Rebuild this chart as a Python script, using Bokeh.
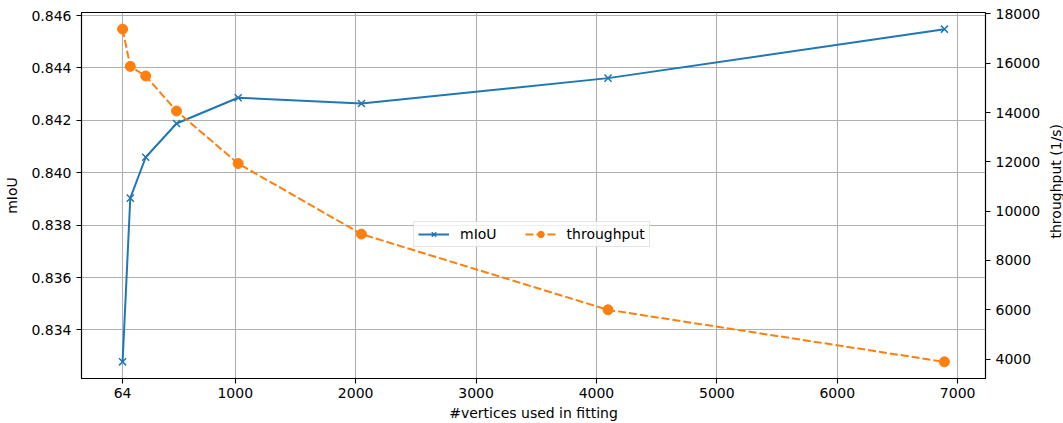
import math
from bokeh.plotting import figure
from bokeh.layouts import row
from bokeh.models import (Range1d, LinearAxis, FixedTicker, Legend, LegendItem,
                          NumeralTickFormatter, ColumnDataSource)
from bokeh.core.properties import value
from bokeh.embed import file_html
from bokeh.resources import INLINE

# ---- data ----
vertices = [64, 128, 256, 512, 1024, 2048, 4096, 6890]
miou = [0.83278, 0.83903, 0.84059, 0.84188, 0.84286, 0.84264, 0.84361, 0.84548]
throughput = [17380, 15870, 15480, 14060, 11930, 9070, 6000, 3890]

x_ticks = [64, 1000, 2000, 3000, 4000, 5000, 6000, 7000]
left_ticks = [0.834, 0.836, 0.838, 0.840, 0.842, 0.844, 0.846]
right_ticks = [4000, 6000, 8000, 10000, 12000, 14000, 16000, 18000]
right_title = "throughput (1/s)"


def padded(vals, frac=0.05):
    lo, hi = min(vals), max(vals)
    m = (hi - lo) * frac
    return lo - m, hi + m


FONT = "DejaVu Sans"
BLUE = "#1f77b4"
ORANGE = "#ff7f0e"

xlo, xhi = padded(vertices)
ylo, yhi = padded(miou)
tlo, thi = padded(throughput)

W, H = 1063, 423
SIDE = 20
BL, BR, BT, BB = 81, 77 - SIDE, 12, 45

p = figure(width=W - SIDE, height=H, output_backend="svg", toolbar_location=None,
           x_range=Range1d(xlo, xhi), y_range=Range1d(ylo, yhi),
           min_border_left=BL, min_border_right=BR, min_border_top=BT,
           min_border_bottom=BB)
p.extra_y_ranges = {"tp": Range1d(tlo, thi)}

src = ColumnDataSource(dict(x=vertices, m=miou, t=throughput))

l1 = p.line("x", "m", source=src, color=BLUE, line_width=2)
s1 = p.scatter("x", "m", source=src, marker="x", size=10, line_color=BLUE, line_width=1.5)
l2 = p.line("x", "t", source=src, color=ORANGE, line_width=2, line_dash="8 3",
            y_range_name="tp")
s2 = p.scatter("x", "t", source=src, marker="circle", size=10, fill_color=ORANGE,
               line_color=ORANGE, y_range_name="tp")

p.xaxis.ticker = FixedTicker(ticks=x_ticks)
p.yaxis.ticker = FixedTicker(ticks=left_ticks)
p.yaxis.formatter = NumeralTickFormatter(format="0.000")
p.xaxis.axis_label = "#vertices used in fitting"
p.yaxis.axis_label = "mIoU"

raxis = LinearAxis(y_range_name="tp", ticker=FixedTicker(ticks=right_ticks))
p.add_layout(raxis, "right")

for ax in [p.xaxis[0], p.yaxis[0], raxis]:
    ax.major_label_text_font = FONT
    ax.major_label_text_font_size = "14px"
    ax.major_label_text_color = "black"
    ax.axis_label_text_font = FONT
    ax.axis_label_text_font_size = "14px"
    ax.axis_label_text_font_style = "normal"
    ax.axis_label_text_color = "black"
    ax.axis_line_color = "black"
    ax.axis_line_width = 1.1
    ax.major_tick_line_color = "black"
    ax.major_tick_line_width = 1.1
    ax.major_tick_out = 5
    ax.major_tick_in = 0
    ax.minor_tick_line_color = None
    ax.major_label_standoff = 5
    ax.axis_label_standoff = 8

p.xaxis.axis_label_standoff = 4
p.xaxis.major_label_standoff = 4
raxis.major_label_standoff = 5

p.outline_line_color = "black"
p.outline_line_width = 1.1
p.xgrid.grid_line_color = "#b0b0b0"
p.ygrid.grid_line_color = "#b0b0b0"
p.xgrid.grid_line_width = 1.1
p.ygrid.grid_line_width = 1.1
p.xgrid.ticker = FixedTicker(ticks=x_ticks)
p.ygrid.ticker = FixedTicker(ticks=left_ticks)

legend = Legend(items=[LegendItem(label="mIoU", renderers=[l1, s1]),
                       LegendItem(label="throughput", renderers=[l2, s2])],
                orientation="horizontal", location=(332, 131))
legend.label_text_font = FONT
legend.label_text_font_size = "14px"
legend.label_text_color = "black"
legend.glyph_width = 31
legend.glyph_height = 16
legend.label_height = 16
legend.label_standoff = 11
legend.spacing = 28
legend.padding = 4
legend.margin = 0
legend.border_line_color = "#cccccc"
legend.border_line_width = 1
legend.background_fill_alpha = 0.8
p.add_layout(legend, "center")

# narrow strip holding the right-hand axis title (reads bottom-to-top)
side = figure(width=SIDE, height=H, output_backend="svg", toolbar_location=None,
              x_range=Range1d(0, SIDE), y_range=Range1d(0, H),
              x_axis_type=None, y_axis_type=None, min_border=0)
side.grid.visible = False
side.outline_line_color = None
side.text(x=[SIDE - 8], y=[H - (BT + (H - BT - BB) / 2)], text=[right_title],
          angle=math.pi / 2, text_align="center", text_baseline="middle",
          text_font=value(FONT), text_font_size="14px", text_color="black")

layout = row(p, side, spacing=0)
open("out.html", "w").write(file_html(layout, INLINE))
